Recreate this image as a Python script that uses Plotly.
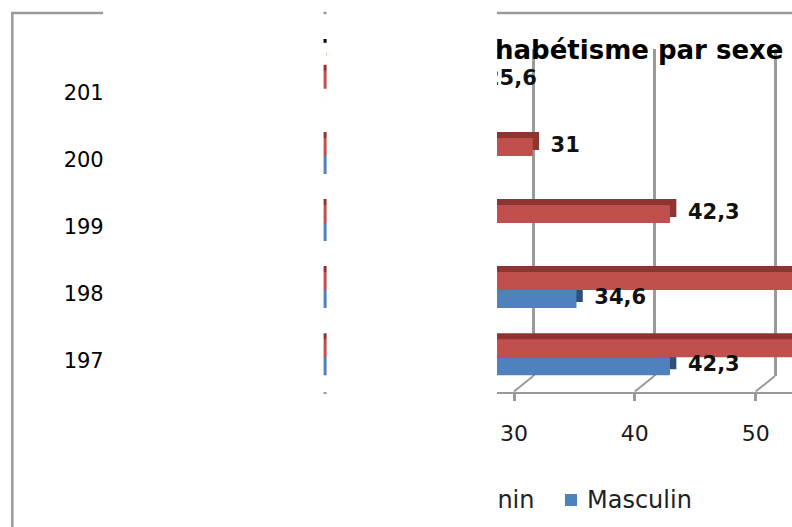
import plotly.graph_objects as go

# ---- data -------------------------------------------------------------
years = ["1975", "1984", "1994", "2004", "2014"]
feminin = [67.4, 58.1, 42.3, 31.0, 25.6]
masculin = [42.3, 34.6, 21.3, 14.8, 12.4]
x_ticks = [0, 10, 20, 30, 40, 50]
title_text = "Taux d'analphabétisme par sexe"
series_names = ["Féminin", "Masculin"]

# ---- page geometry (pixels) ------------------------------------------
W, H = 792, 527
PLOT_LEFT = 156.1        # pixel where value 0 sits on the bar scale
BAR_SCALE = 12.15        # px per unit for the bars
GRID_SCALE = 12.085      # px per unit for back wall / floor
BACK_30 = 533.3          # back-wall gridline for 30
FRONT_30 = 514.0         # floor tick for 30
WALL_TOP, WALL_BOTTOM, FLOOR_FRONT = 49.0, 376.0, 393.0
ROW0 = 357.2             # boundary between the two bars of the first row
ROW_PITCH = 67.1
HALF_PX, BAR_PX = 9.0, 18.0
LIFT_PX, DEPTH_PX = 6.0, 6.3
LABEL_GAP_MARKER = 27    # invisible marker size that spaces value labels

RED, RED_DARK = "#C0504D", "#8E3533"
BLUE, BLUE_DARK = "#4F81BD", "#2E4F7A"
GRID = "#9A9A9A"
FONT = "DejaVu Sans"


def fx(p):
    return p / W


def fy(p):
    return 1 - p / H


pos = list(range(len(years)))
half = HALF_PX / ROW_PITCH
bar_w = BAR_PX / ROW_PITCH
lift = LIFT_PX / ROW_PITCH
depth = DEPTH_PX / BAR_SCALE
red_y = [p + half for p in pos]
blue_y = [p - half for p in pos]

y_min = -(WALL_BOTTOM - ROW0) / ROW_PITCH
y_max = (ROW0 - WALL_TOP) / ROW_PITCH
span = W - PLOT_LEFT
x_max = span / BAR_SCALE
grid_r0 = 30 - (BACK_30 - PLOT_LEFT) / GRID_SCALE
tick_r0 = 30 - (FRONT_30 - PLOT_LEFT) / GRID_SCALE
depth_ticks = (BACK_30 - FRONT_30) / GRID_SCALE


def fmt(v):
    return f"{v:g}".replace(".", ",")


fig = go.Figure()

# dark faces (top + end) behind each bar
fig.add_trace(go.Bar(x=feminin, y=[y + lift for y in red_y], base=depth, orientation="h",
                     width=bar_w, marker=dict(color=RED_DARK, line=dict(width=0)),
                     showlegend=False, hoverinfo="skip"))
fig.add_trace(go.Bar(x=masculin, y=[y + lift for y in blue_y], base=depth, orientation="h",
                     width=bar_w, marker=dict(color=BLUE_DARK, line=dict(width=0)),
                     showlegend=False, hoverinfo="skip"))
# front faces
fig.add_trace(go.Bar(x=feminin, y=red_y, orientation="h", width=bar_w, name=series_names[0],
                     marker=dict(color=RED, line=dict(width=0)), showlegend=False))
fig.add_trace(go.Bar(x=masculin, y=blue_y, orientation="h", width=bar_w, name=series_names[1],
                     marker=dict(color=BLUE, line=dict(width=0)), showlegend=False))

# value labels (bars that run past the frame keep their label off-page)
label_font = dict(family=FONT, size=21, color="#111111", weight="bold")
for vals, ys in ((feminin, red_y), (masculin, blue_y)):
    keep = [i for i, v in enumerate(vals) if v < x_max]
    fig.add_trace(go.Scatter(x=[vals[i] for i in keep], y=[ys[i] for i in keep],
                             mode="markers+text", text=[fmt(vals[i]) for i in keep],
                             textposition="middle right", textfont=label_font,
                             marker=dict(size=LABEL_GAP_MARKER, opacity=0),
                             showlegend=False, hoverinfo="skip", cliponaxis=True))

# carriers for the back-wall and floor axes
fig.add_trace(go.Scatter(x=[None], y=[None], xaxis="x2", yaxis="y", showlegend=False, hoverinfo="skip"))
fig.add_trace(go.Scatter(x=[None], y=[None], xaxis="x3", yaxis="y", showlegend=False, hoverinfo="skip"))

# title and legend on a full-page overlay axis
fig.add_trace(go.Scatter(x=[783.5], y=[52.5], mode="text", text=[title_text],
                         textposition="middle left", xaxis="x4", yaxis="y4",
                         textfont=dict(family=FONT, size=26, color="#000000", weight="bold"),
                         showlegend=False, hoverinfo="skip", cliponaxis=False))
LEG_Y = 501.5
LEG_FONT = 24
leg_items = [(series_names[0], RED, 428.0, 534.5, "middle left"),
             (series_names[1], BLUE, 571.0, 587.0, "middle right")]
for name, col, mx, tx, tp in leg_items:
    fig.add_trace(go.Scatter(x=[mx], y=[500], mode="markers", xaxis="x4", yaxis="y4",
                             marker=dict(symbol="square", size=12, color=col, line=dict(width=0)),
                             showlegend=False, hoverinfo="skip", cliponaxis=False))
    fig.add_trace(go.Scatter(x=[tx], y=[LEG_Y], mode="text", text=[name], textposition=tp,
                             xaxis="x4", yaxis="y4",
                             textfont=dict(family=FONT, size=LEG_FONT, color="#1F1F1F"),
                             showlegend=False, hoverinfo="skip", cliponaxis=False))

shapes = []
# chart-area frame
shapes.append(dict(type="rect", xref="paper", yref="paper", x0=fx(12.3), x1=fx(830),
                   y0=fy(13.0), y1=fy(560), line=dict(color="#9A9A9A", width=2.5),
                   fillcolor="rgba(0,0,0,0)"))
# floor edges joining back-wall gridlines to front ticks
for t in x_ticks:
    shapes.append(dict(type="line", xref="x3", yref="paper", x0=t, x1=t + depth_ticks,
                       y0=fy(FLOOR_FRONT - 1.5), y1=fy(WALL_BOTTOM), line=dict(color=GRID, width=2)))
# blank panels
for a, b in ((103.0, 323.6), (326.6, 497.0)):
    shapes.append(dict(type="rect", xref="paper", yref="paper", x0=fx(a), x1=fx(b),
                       y0=fy(540), y1=fy(-10), line=dict(width=0), fillcolor="#FFFFFF"))

fig.update_layout(
    width=W, height=H, autosize=False, template="none",
    margin=dict(l=0, r=0, t=0, b=0, pad=0),
    paper_bgcolor="#FFFFFF", plot_bgcolor="rgba(0,0,0,0)",
    barmode="overlay", showlegend=False,
    font=dict(family=FONT, color="#000000"),
    xaxis=dict(domain=[fx(PLOT_LEFT), 1], range=[0, x_max], visible=False, fixedrange=True),
    xaxis2=dict(overlaying="x", anchor="y", range=[grid_r0, grid_r0 + span / GRID_SCALE],
                showgrid=True, gridcolor=GRID, gridwidth=2.5, tick0=0, dtick=10,
                showticklabels=False, ticks="", zeroline=False, showline=False),
    xaxis3=dict(overlaying="x", anchor="free", position=fy(FLOOR_FRONT),
                range=[tick_r0, tick_r0 + span / GRID_SCALE],
                tickvals=x_ticks, ticktext=[str(t) for t in x_ticks],
                showgrid=False, zeroline=False, showline=True, linecolor=GRID, linewidth=2,
                ticks="outside", ticklen=7, tickwidth=2.5, tickcolor=GRID,
                tickfont=dict(family=FONT, size=22, color="#1A1A1A"), ticklabelstandoff=14),
    yaxis=dict(domain=[fy(WALL_BOTTOM), fy(WALL_TOP)], range=[y_min, y_max], anchor="x",
               tickvals=[p - 0.05 for p in pos], ticktext=years, showgrid=False,
               zeroline=False, showline=False, ticks="",
               tickfont=dict(family=FONT, size=21, color="#000000"), ticklabelstandoff=38),
    xaxis4=dict(domain=[0, 1], range=[0, W], anchor="y4", visible=False),
    yaxis4=dict(domain=[0, 1], range=[H, 0], anchor="x4", visible=False),
    shapes=shapes,
)

fig.write_html("out.html")
